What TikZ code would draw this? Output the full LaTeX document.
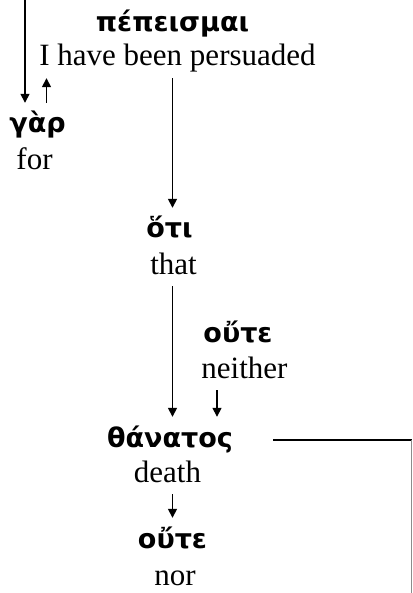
\documentclass[tikz,border=0pt]{standalone}
\usepackage{fontspec}
\setmainfont{Liberation Serif}
\newfontfamily\grk{DejaVu Sans}
\usetikzlibrary{arrows.meta}
\begin{document}
\begin{tikzpicture}[x=1pt,y=-1pt,
  eng/.style={anchor=base,inner sep=0pt,text depth=12pt,font=\fontsize{31}{36}\selectfont},
  gk/.style={anchor=base,inner sep=0pt,text height=30pt,font=\grk\bfseries\fontsize{27}{32}\selectfont},
  arr/.style={line width=1.5pt,-{Triangle[length=9pt,width=9pt]}},
  ln/.style={line width=1.5pt}]
\useasboundingbox (0,0) rectangle (412,593);
\node[gk] (pepeismai) at (172.5,32) {πέπεισμαι};
\node[eng] (persuaded) at (177.5,66) {I have been persuaded};
\node[gk] (gar) at (37.5,133) {γὰρ};
\node[eng] (for) at (34.5,170) {for};
\node[gk] (oti) at (169.5,238) {ὅτι};
\node[eng] (that) at (173.5,274) {that};
\node[gk] (oute1) at (238,342) {οὔτε};
\node[eng] (neither) at (244.5,378) {neither};
\node[gk,text depth=16pt] (thanatos) at (170,447) {θάνατος};
\node[eng] (death) at (167.5,482) {death};
\node[gk] (oute2) at (172.5,548) {οὔτε};
\node[eng] (nor) at (175,585) {nor};
\coordinate (topL) at (25,0);
\coordinate (spine) at (172.5,0);
\coordinate (corner) at (412,440);
\coordinate (cornerV) at (411.6,440);
\coordinate (bottomR) at (411.6,593);
\draw[arr] (topL) -- (topL |- gar.north);
\draw[arr] ([xshift=9pt]gar.north) -- ([xshift=9pt]gar.north |- persuaded.south);
\draw[arr] (spine |- persuaded.south) -- (spine |- oti.north);
\draw[arr] (spine |- that.south) -- (spine |- thanatos.north);
\draw[arr] ([xshift=-27.5pt]neither.south) -- ([xshift=-27.5pt]neither.south |- thanatos.north);
\draw[arr] (spine |- death.south) -- (spine |- oute2.north);
\draw[ln,shorten <=40pt] (thanatos.east) -- (corner);
\draw[line width=0.8pt,black!45] (cornerV) -- (bottomR);
\end{tikzpicture}
\end{document}
